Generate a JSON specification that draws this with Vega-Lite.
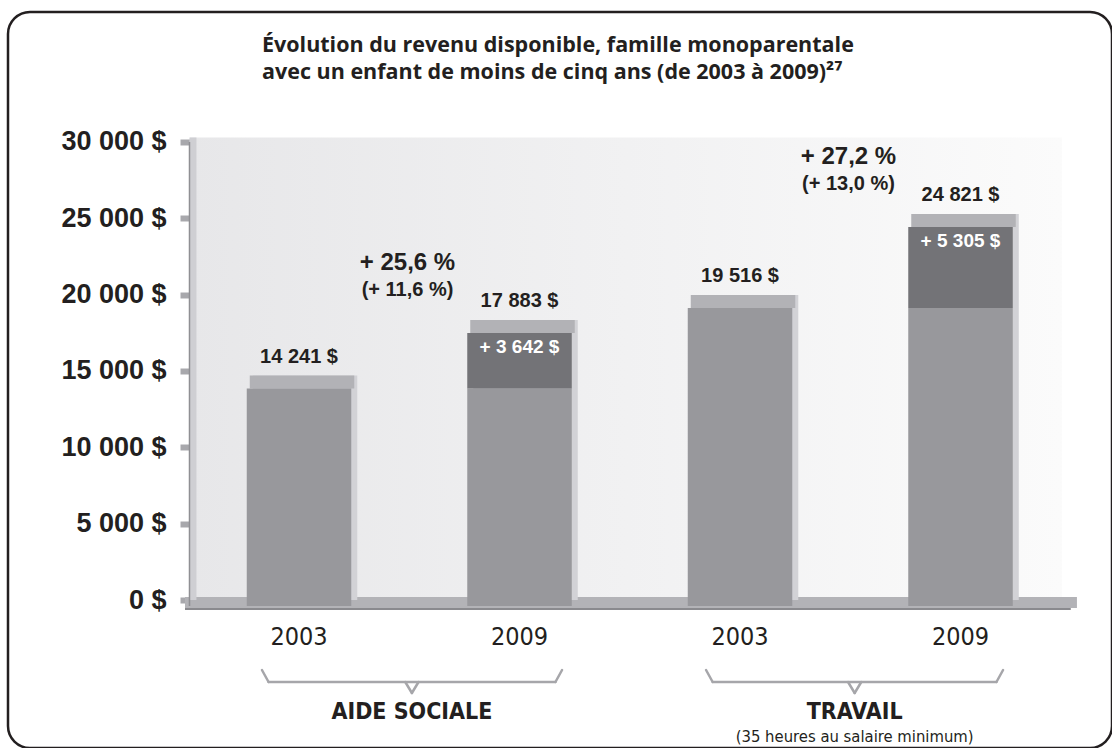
{
  "$schema": "https://vega.github.io/schema/vega-lite/v6.json",
  "width": 1104,
  "height": 736,
  "autosize": {"type": "none"},
  "padding": {"left": 8, "top": 12, "right": 0, "bottom": 0},
  "background": "white",
  "config": {
    "view": {"stroke": "#231f20", "strokeWidth": 2.5, "cornerRadius": 22},
    "axis": {"grid": false, "domain": false}
  },
  "title": {
    "text": ["Évolution du revenu disponible, famille monoparentale", "avec un enfant de moins de cinq ans (de 2003 à 2009)²⁷"],
    "anchor": "start",
    "frame": "group",
    "dx": 254,
    "offset": -71,
    "font": "Open Sans",
    "fontSize": 21.5,
    "fontWeight": "bold",
    "color": "#231f20",
    "lineHeight": 27
  },
  "datasets": {
    "segments": [
      {"cat": "AS 2003", "part": "base", "value": 14241},
      {"cat": "AS 2009", "part": "base", "value": 14241},
      {"cat": "AS 2009", "part": "hausse", "value": 3642},
      {"cat": "TR 2003", "part": "base", "value": 19516},
      {"cat": "TR 2009", "part": "base", "value": 19516},
      {"cat": "TR 2009", "part": "hausse", "value": 5305}
    ],
    "totals": [
      {"cat": "AS 2003", "total": 14241, "label": "14 241 $"},
      {"cat": "AS 2009", "total": 17883, "label": "17 883 $", "hausse": "+ 3 642 $", "pct": "+ 25,6 %", "pct2": "(+ 11,6 %)"},
      {"cat": "TR 2003", "total": 19516, "label": "19 516 $"},
      {"cat": "TR 2009", "total": 24821, "label": "24 821 $", "hausse": "+ 5 305 $", "pct": "+ 27,2 %", "pct2": "(+ 13,0 %)"}
    ]
  },
  "resolve": {"scale": {"x": "independent"}, "axis": {"x": "independent"}},
  "layer": [
    {
      "data": {"values": [{}]},
      "layer": [
        {
          "mark": {"type": "rect", "color": {"gradient": "linear", "x1": 0, "y1": 0, "x2": 1, "y2": 0, "stops": [{"offset": 0, "color": "#e7e7e9"}, {"offset": 1, "color": "#fbfbfb"}]}},
          "encoding": {
            "x": {"datum": 0.5057, "type": "quantitative", "scale": {"domain": [-0.3197, 4.687], "nice": false, "zero": false}, "axis": null},
            "x2": {"datum": 4.46},
            "y": {"datum": 0, "type": "quantitative", "scale": {"domain": [-9694, 38514], "nice": false, "zero": false}},
            "y2": {"datum": 30300}
          }
        },
        {
          "mark": {"type": "rect", "color": "#b3b3b7"},
          "encoding": {
            "x": {"datum": 0.483, "type": "quantitative", "axis": null},
            "x2": {"datum": 4.528},
            "y": {"datum": -524, "type": "quantitative"},
            "y2": {"datum": 196}
          }
        },
        {
          "mark": {"type": "rule", "color": "#8a8a8e", "strokeWidth": 2},
          "encoding": {
            "x": {"datum": 0.483, "type": "quantitative", "axis": null},
            "x2": {"datum": 4.50},
            "y": {"datum": -590, "type": "quantitative"}
          }
        },
        {
          "mark": {"type": "rule", "color": "#cfcfd3", "strokeWidth": 7},
          "encoding": {
            "x": {"datum": 0.519, "type": "quantitative", "axis": null},
            "y": {"datum": 0, "type": "quantitative"},
            "y2": {"datum": 30300}
          }
        },
        {
          "mark": {"type": "rule", "color": "#8f8f93", "strokeWidth": 1.5},
          "encoding": {
            "x": {"datum": 0.5034, "type": "quantitative", "axis": null},
            "y": {"datum": -400, "type": "quantitative"},
            "y2": {"datum": 30000}
          }
        },
        {
          "mark": {"type": "rule", "color": "#a6a6aa", "strokeWidth": 2.5, "strokeCap": "round"},
          "encoding": {"x": {"datum": 0.862, "type": "quantitative", "axis": null}, "x2": {"datum": 2.163}, "y": {"datum": -5371, "type": "quantitative"}}
        },
        {
          "mark": {"type": "rule", "color": "#a6a6aa", "strokeWidth": 2.5, "strokeCap": "round"},
          "encoding": {"x": {"datum": 0.832, "type": "quantitative", "axis": null}, "x2": {"datum": 0.862}, "y": {"datum": -4585, "type": "quantitative"}, "y2": {"datum": -5371}}
        },
        {
          "mark": {"type": "rule", "color": "#a6a6aa", "strokeWidth": 2.5, "strokeCap": "round"},
          "encoding": {"x": {"datum": 2.193, "type": "quantitative", "axis": null}, "x2": {"datum": 2.163}, "y": {"datum": -4585, "type": "quantitative"}, "y2": {"datum": -5371}}
        },
        {
          "mark": {"type": "rule", "color": "#a6a6aa", "strokeWidth": 2.5, "strokeCap": "round"},
          "encoding": {"x": {"datum": 1.482, "type": "quantitative", "axis": null}, "x2": {"datum": 1.512}, "y": {"datum": -5371, "type": "quantitative"}, "y2": {"datum": -6092}}
        },
        {
          "mark": {"type": "rule", "color": "#a6a6aa", "strokeWidth": 2.5, "strokeCap": "round"},
          "encoding": {"x": {"datum": 1.542, "type": "quantitative", "axis": null}, "x2": {"datum": 1.512}, "y": {"datum": -5371, "type": "quantitative"}, "y2": {"datum": -6092}}
        },
        {
          "mark": {"type": "rule", "color": "#a6a6aa", "strokeWidth": 2.5, "strokeCap": "round"},
          "encoding": {"x": {"datum": 2.876, "type": "quantitative", "axis": null}, "x2": {"datum": 4.163}, "y": {"datum": -5371, "type": "quantitative"}}
        },
        {
          "mark": {"type": "rule", "color": "#a6a6aa", "strokeWidth": 2.5, "strokeCap": "round"},
          "encoding": {"x": {"datum": 2.846, "type": "quantitative", "axis": null}, "x2": {"datum": 2.876}, "y": {"datum": -4585, "type": "quantitative"}, "y2": {"datum": -5371}}
        },
        {
          "mark": {"type": "rule", "color": "#a6a6aa", "strokeWidth": 2.5, "strokeCap": "round"},
          "encoding": {"x": {"datum": 4.193, "type": "quantitative", "axis": null}, "x2": {"datum": 4.163}, "y": {"datum": -4585, "type": "quantitative"}, "y2": {"datum": -5371}}
        },
        {
          "mark": {"type": "rule", "color": "#a6a6aa", "strokeWidth": 2.5, "strokeCap": "round"},
          "encoding": {"x": {"datum": 3.49, "type": "quantitative", "axis": null}, "x2": {"datum": 3.52}, "y": {"datum": -5371, "type": "quantitative"}, "y2": {"datum": -6092}}
        },
        {
          "mark": {"type": "rule", "color": "#a6a6aa", "strokeWidth": 2.5, "strokeCap": "round"},
          "encoding": {"x": {"datum": 3.55, "type": "quantitative", "axis": null}, "x2": {"datum": 3.52}, "y": {"datum": -5371, "type": "quantitative"}, "y2": {"datum": -6092}}
        },
        {
          "mark": {"type": "text", "text": "AIDE SOCIALE", "font": "DejaVu Sans Condensed, Liberation Sans, sans-serif", "fontSize": 23, "fontWeight": "bold", "color": "#231f20", "baseline": "middle"},
          "encoding": {"x": {"datum": 1.512, "type": "quantitative", "axis": null}, "y": {"datum": -7336, "type": "quantitative"}}
        },
        {
          "mark": {"type": "text", "text": "TRAVAIL", "font": "DejaVu Sans Condensed, Liberation Sans, sans-serif", "fontSize": 23, "fontWeight": "bold", "color": "#231f20", "baseline": "middle"},
          "encoding": {"x": {"datum": 3.52, "type": "quantitative", "axis": null}, "y": {"datum": -7336, "type": "quantitative"}}
        },
        {
          "mark": {"type": "text", "text": "(35 heures au salaire minimum)", "font": "DejaVu Sans Condensed, Liberation Sans, sans-serif", "fontSize": 16.5, "color": "#231f20", "baseline": "middle"},
          "encoding": {"x": {"datum": 3.52, "type": "quantitative", "axis": null}, "y": {"datum": -8974, "type": "quantitative"}}
        }
      ]
    },
    {
      "encoding": {
        "x": {
          "field": "cat",
          "type": "nominal",
          "scale": {"domain": ["AS 2003", "AS 2009", "TR 2003", "TR 2009"], "paddingInner": 0.526, "paddingOuter": 0.7664, "align": 0.7064},
          "axis": {"title": null, "orient": "bottom", "offset": -132, "labelExpr": "slice(datum.label, 3)", "ticks": false, "domain": false, "labelPadding": 8, "labelFont": "DejaVu Sans Condensed, Liberation Sans, sans-serif", "labelFontSize": 25, "labelFontWeight": "normal", "labelColor": "#231f20", "labelAngle": 0}
        }
      },
      "layer": [
        {
          "data": {"name": "totals"},
          "mark": {"type": "bar", "color": "#d2d2d6", "xOffset": 6, "yOffset": -7},
          "encoding": {"y": {"field": "total", "type": "quantitative"}, "y2": {"datum": 0}}
        },
        {
          "data": {"name": "totals"},
          "mark": {"type": "bar", "color": "#b2b2b6", "xOffset": 3, "yOffset": -7, "y2Offset": 6},
          "encoding": {"y": {"field": "total", "type": "quantitative"}, "y2": {"field": "total"}}
        },
        {
          "data": {"name": "segments"},
          "mark": {"type": "bar", "yOffset": 6, "y2Offset": 6},
          "encoding": {
            "y": {
              "field": "value",
              "type": "quantitative",
              "stack": "zero",
              "scale": {"domain": [-9694, 38514], "nice": false, "zero": false},
              "axis": {"title": null, "values": [0, 5000, 10000, 15000, 20000, 25000, 30000], "labelExpr": "replace(format(datum.value, ','), ',', ' ') + ' $'", "offset": -199, "tickSize": 27, "tickWidth": 6, "tickColor": "#a8a8ac", "labelPadding": 14, "labelFont": "Liberation Sans", "labelFontSize": 27, "labelFontWeight": "bold", "labelColor": "#231f20", "domain": false, "grid": false}
            },
            "color": {"field": "part", "type": "nominal", "scale": {"domain": ["base", "hausse"], "range": ["#98989c", "#737377"]}, "legend": null},
            "order": {"field": "part", "sort": "ascending"}
          }
        },
        {
          "data": {"name": "totals"},
          "mark": {"type": "text", "dy": -26, "font": "Liberation Sans", "fontSize": 20, "fontWeight": "bold", "color": "#231f20", "baseline": "middle"},
          "encoding": {"y": {"field": "total", "type": "quantitative"}, "text": {"field": "label"}}
        },
        {
          "data": {"name": "totals"},
          "transform": [{"filter": "datum.hausse"}],
          "mark": {"type": "text", "dy": 20, "font": "Liberation Sans", "fontSize": 19, "fontWeight": "bold", "color": "white", "baseline": "middle"},
          "encoding": {"y": {"field": "total", "type": "quantitative"}, "text": {"field": "hausse"}}
        },
        {
          "data": {"name": "totals"},
          "transform": [{"filter": "datum.pct"}],
          "mark": {"type": "text", "dx": -112, "dy": -64, "font": "Liberation Sans", "fontSize": 24, "fontWeight": "bold", "color": "#231f20", "baseline": "middle"},
          "encoding": {"y": {"field": "total", "type": "quantitative"}, "text": {"field": "pct"}}
        },
        {
          "data": {"name": "totals"},
          "transform": [{"filter": "datum.pct2"}],
          "mark": {"type": "text", "dx": -112, "dy": -37, "font": "Liberation Sans", "fontSize": 20, "fontWeight": "bold", "color": "#231f20", "baseline": "middle"},
          "encoding": {"y": {"field": "total", "type": "quantitative"}, "text": {"field": "pct2"}}
        }
      ]
    }
  ]
}
